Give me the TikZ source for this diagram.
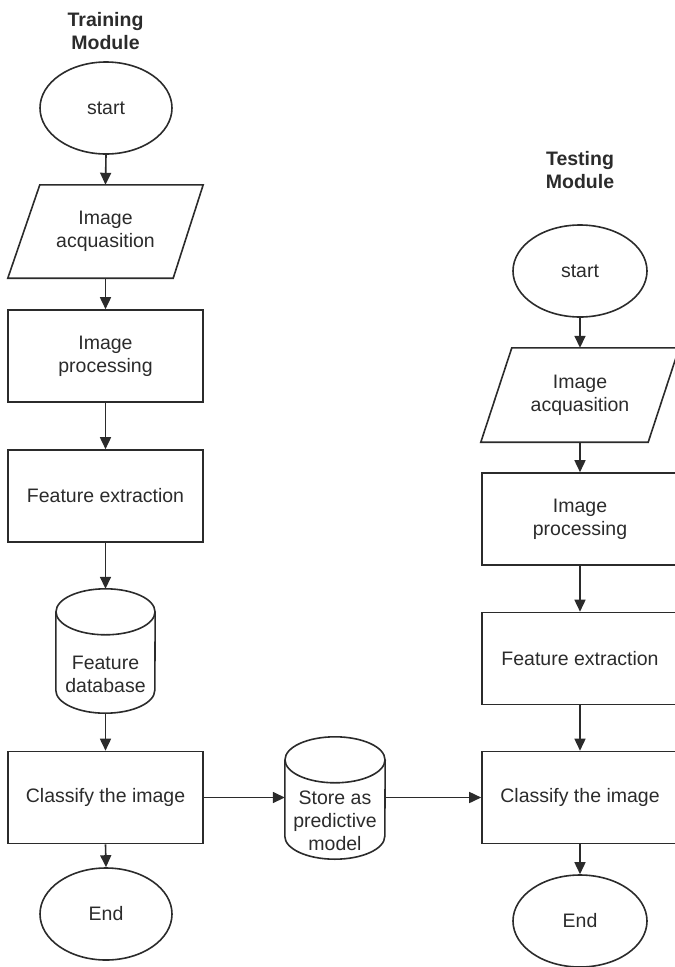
\documentclass[tikz,border=0pt]{standalone}
\usepackage{fontspec}
\setmainfont{Liberation Sans}
\usetikzlibrary{shapes.geometric,arrows.meta}
\definecolor{ink}{HTML}{2B2B2B}
\tikzset{
  base/.style={inner sep=0pt, align=center, text=ink, font=\fontsize{19.5}{23}\selectfont},
  procbox/.style={base, draw=ink, line width=1.6pt, rectangle, minimum width=195pt, minimum height=92pt},
  termnode/.style={base, draw=ink, line width=1.6pt, ellipse, minimum width=132pt, minimum height=92pt},
  iobox/.style={base, rectangle, minimum width=195pt, minimum height=93pt},
  cylbody/.style={base, rectangle, minimum width=99pt, minimum height=78pt},
  titletext/.style={base, font=\fontsize{19.5}{23}\selectfont\bfseries},
  outline/.style={draw=ink, line width=1.6pt},
  arr/.style={draw=ink, line width=1.6pt, -{Triangle[length=12pt,width=11pt]}}
}
\begin{document}
\begin{tikzpicture}[x=1pt,y=-1pt]
\useasboundingbox (0,0) rectangle (675,967);
\clip (0,0) rectangle (675,967);
% ---- Training module ----
\node[titletext] (ttitle) at (105.5,31) {Training\\Module};
\node[termnode] (ts) at (106,108) {start};
\node[iobox] (ta) at (105.5,231.5) {Image\\acquasition};
\draw[outline] ([xshift=32pt]ta.north west) -- (ta.north east) -- ([xshift=-30pt]ta.south east) -- (ta.south west) -- cycle;
\node[procbox] (tp) at (105.5,356) {Image\\processing};
\node[procbox] (tf) at (105.5,496) {Feature extraction};
\node[cylbody] (tdb) at (105.5,674) {Feature\\database};
\draw[outline] ([yshift=23pt]tdb.north) ellipse [x radius=49.5pt, y radius=23pt];
\draw[outline] ([yshift=23pt]tdb.north west) -- ([yshift=23pt]tdb.south west)
   arc[start angle=180, end angle=360, x radius=49.5pt, y radius=23pt] -- ([yshift=23pt]tdb.north east);
\node[procbox] (tc) at (105.5,797.5) {Classify the image};
\node[termnode] (te) at (106,914) {End};
% ---- Store ----
\node[cylbody, minimum width=100pt, minimum height=76pt] (store) at (335,821) {Store as\\predictive\\model};
\draw[outline] ([yshift=23pt]store.north) ellipse [x radius=50pt, y radius=23pt];
\draw[outline] ([yshift=23pt]store.north west) -- ([yshift=23pt]store.south west)
   arc[start angle=180, end angle=360, x radius=50pt, y radius=23pt] -- ([yshift=23pt]store.north east);
% ---- Testing module ----
\node[titletext] (rtitle) at (580,170) {Testing\\Module};
\node[termnode, minimum width=134pt] (rs) at (580,271) {start};
\node[iobox, minimum width=198pt, minimum height=94pt] (ra) at (580,395) {Image\\acquasition};
\draw[outline] ([xshift=31pt]ra.north west) -- (ra.north east) -- ([xshift=-31pt]ra.south east) -- (ra.south west) -- cycle;
\node[procbox, minimum width=196pt] (rp) at (580,519) {Image\\processing};
\node[procbox, minimum width=196pt] (rf) at (580,658.5) {Feature extraction};
\node[procbox, minimum width=196pt] (rc) at (580,797.5) {Classify the image};
\node[termnode, minimum width=134pt] (re) at (580,921) {End};
% ---- connectors ----
\draw[arr] (ts.south) -- (ta.north);
\draw[arr] (ta.south) -- (tp.north);
\draw[arr] (tp.south) -- (tf.north);
\draw[arr] (tf.south) -- ([yshift=46pt]tdb.north);
\draw[arr] (tdb.south) -- (tc.north);
\draw[arr] (tc.south) -- (te.north);
\draw[arr] (tc.east) -- (tc.east -| store.west);
\draw[arr] (store.east |- rc.west) -- (rc.west);
\draw[arr] (rs.south) -- (ra.north);
\draw[arr] (ra.south) -- (rp.north);
\draw[arr] (rp.south) -- (rf.north);
\draw[arr] (rf.south) -- (rc.north);
\draw[arr] (rc.south) -- (re.north);
\end{tikzpicture}
\end{document}
